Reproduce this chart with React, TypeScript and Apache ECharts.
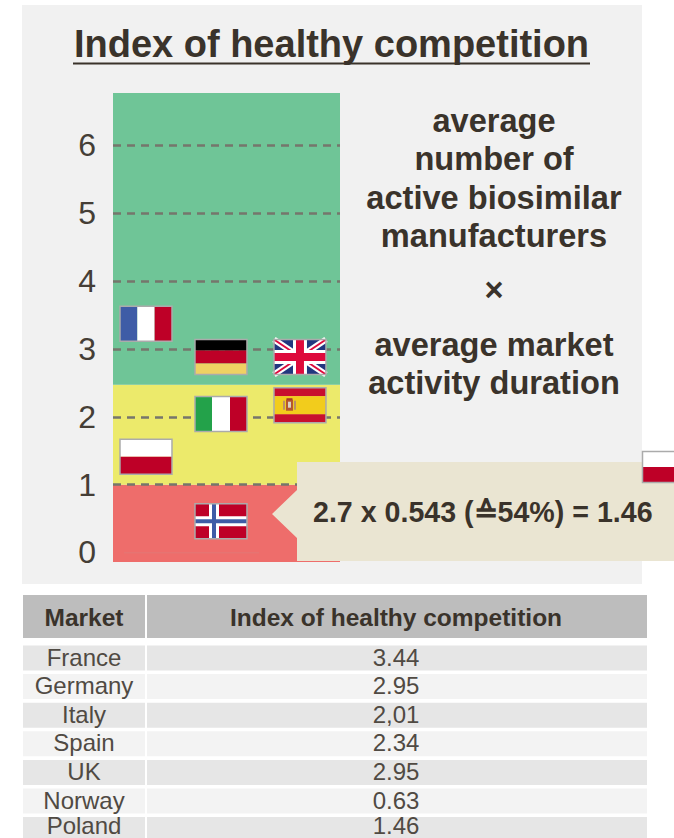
import React, { useEffect, useRef } from "react";
import * as echarts from "echarts";

const FONT = "'Liberation Sans', Arial, sans-serif";
const INK = "#3A332B";

const titleText = "Index of healthy competition";
const yTicks = [0, 1, 2, 3, 4, 5, 6];
const gridTicks = [1, 2, 3, 4, 5, 6];
const bandEdges = [-0.14, 1, 2.47, 6.77];
const bandColors = ["#EE6D6B", "#ECEA6B", "#6FC597"];

// flag positions: column position on a 0-3 scale, level on the y axis
const flagMarkets = ["France", "Germany", "UK", "Italy", "Spain", "Poland", "Norway"];
const flagColumns = [0.436, 1.427, 2.471, 1.427, 2.471, 0.436, 1.427];
const flagLevels = [3.37, 2.88, 2.88, 2.04, 2.17, 1.41, 0.46];

const formulaLines = ["average", "number of", "active biosimilar", "manufacturers"];
const durationLines = ["average market", "activity duration"];
const calloutText = "2.7 x 0.543 (≙54%) = 1.46";

const tableHeader = ["Market", "Index of healthy competition"];
const tableMarkets = ["France", "Germany", "Italy", "Spain", "UK", "Norway", "Poland"];
const tableValues = ["3.44", "2.95", "2,01", "2.34", "2.95", "0.63", "1.46"];

const W = 52;
const H = 35;
const RED = "#BE0027";
const BLUE = "#3E5CA6";

function r(x: number, y: number, width: number, height: number, fill: string) {
  return { type: "rect", shape: { x, y, width, height }, style: { fill } };
}
function l(x1: number, y1: number, x2: number, y2: number, stroke: string, lineWidth: number) {
  return { type: "line", shape: { x1, y1, x2, y2 }, style: { stroke, lineWidth } };
}

function flagParts(name: string): any[] {
  switch (name) {
    case "France":
      return [r(0, 0, W / 3, H, BLUE), r(W / 3, 0, W / 3, H, "#fff"), r((2 * W) / 3, 0, W / 3, H, RED)];
    case "Germany":
      return [r(0, 0, W, 11, "#000"), r(0, 11, W, 13, RED), r(0, 24, W, 11, "#EFD163")];
    case "Italy":
      return [r(0, 0, 17, H, "#23A24A"), r(17, 0, 18, H, "#fff"), r(35, 0, 17, H, RED)];
    case "Poland":
      return [r(0, 0, W, H / 2, "#fff"), r(0, H / 2, W, H / 2, RED)];
    case "Spain":
      return [
        r(0, 0, W, 8.5, "#C8102E"),
        r(0, 8.5, W, 18, "#F2CC1C"),
        r(0, 26.5, W, 8.5, "#C8102E"),
        r(12, 12, 7, 11, "#B5562E"),
        r(14, 14, 3, 6, "#D9D2C5"),
        r(9, 13, 2, 9, "#B98F6B"),
        r(20, 13, 2, 9, "#B98F6B"),
        r(12.5, 10.5, 6, 2, "#A83A2A"),
      ];
    case "Norway":
      return [
        r(0, 0, W, H, RED),
        r(14, 0, 10, H, "#fff"),
        r(0, 12.5, W, 10, "#fff"),
        r(17, 0, 4, H, BLUE),
        r(0, 15.5, W, 4, BLUE),
      ];
    case "UK":
      return [
        r(0, 0, W, H, "#22377F"),
        l(0, 0, W, H, "#fff", 6),
        l(W, 0, 0, H, "#fff", 6),
        l(0, 0, W, H, "#DE0A3C", 2),
        l(W, 0, 0, H, "#DE0A3C", 2),
        r(W / 2 - 7, 0, 14, H, "#fff"),
        r(0, H / 2 - 7, W, 14, "#fff"),
        r(W / 2 - 4, 0, 8, H, "#DE0A3C"),
        r(0, H / 2 - 4, W, 8, "#DE0A3C"),
      ];
  }
  return [];
}
const flagBorder = {
  type: "rect",
  shape: { x: 0, y: 0, width: W, height: H },
  style: { fill: "none", stroke: "#ABABAB", lineWidth: 1.5 },
};

function tableGraphics(): any[] {
  const out: any[] = [];
  const col1 = { x: 23, w: 122, c: 84 };
  const col2 = { x: 147, w: 500, c: 396 };
  out.push(
    { type: "rect", shape: { x: col1.x, y: 595, width: col1.w, height: 43 }, style: { fill: "#BDBDBD" } },
    { type: "rect", shape: { x: col2.x, y: 595, width: col2.w, height: 43 }, style: { fill: "#BDBDBD" } }
  );
  [col1, col2].forEach((c, i) =>
    out.push({
      type: "text",
      x: c.c,
      y: 617,
      style: { text: tableHeader[i], font: `bold 24.5px ${FONT}`, fill: INK, align: "center", verticalAlign: "middle" },
    })
  );
  tableMarkets.forEach((m, i) => {
    const cy = 657 + i * 28.6;
    const fill = i % 2 === 0 ? "#E6E6E6" : "#F3F3F3";
    [col1, col2].forEach((c, j) => {
      out.push({ type: "rect", shape: { x: c.x, y: cy - 11.5, width: c.w, height: 25 }, style: { fill } });
      out.push({
        type: "text",
        x: c.c,
        y: Math.min(cy, 825.5),
        style: {
          text: j === 0 ? m : tableValues[i],
          font: `24px ${FONT}`,
          fill: "#504A43",
          align: "center",
          verticalAlign: "middle",
        },
      });
    });
  });
  return out;
}

function centerText(text: string, y: number, font: string) {
  return {
    type: "text",
    x: 494,
    y,
    style: { text, font, fill: INK, align: "center", verticalAlign: "middle" },
  };
}

export default function App() {
  const ref = useRef<HTMLDivElement>(null);
  useEffect(() => {
    const chart = echarts.init(ref.current!, undefined, { renderer: "svg" });
    const boldSide = `bold 32.6px ${FONT}`;
    chart.setOption({
      animation: false,
      backgroundColor: "#fff",
      grid: { left: 113, top: 93, width: 227, height: 469, containLabel: false },
      xAxis: { type: "value", min: 0, max: 3, show: false },
      yAxis: {
        type: "value",
        min: bandEdges[0],
        max: bandEdges[3],
        z: 3,
        axisLine: { show: false },
        axisTick: { show: false, customValues: gridTicks },
        axisLabel: {
          customValues: yTicks,
          margin: 17,
          fontFamily: FONT,
          fontSize: 32,
          color: "#453E36",
        },
        splitLine: {
          show: true,
          lineStyle: { color: "#76766C", width: 2.5, type: [8, 6] },
        },
      },
      series: [
        {
          type: "custom",
          name: "bands",
          z: 1,
          silent: true,
          data: bandColors.map((_, i) => [bandEdges[i], bandEdges[i + 1], i]),
          encode: { y: [0, 1] },
          renderItem: (_p: any, api: any) => {
            const lo = api.coord([0, api.value(0)]);
            const hi = api.coord([3, api.value(1)]);
            return {
              type: "rect",
              shape: { x: lo[0], y: hi[1], width: hi[0] - lo[0], height: lo[1] - hi[1] },
              style: { fill: bandColors[api.value(2)] },
            };
          },
        },
        {
          type: "custom",
          name: "flags",
          z: 5,
          silent: true,
          data: flagMarkets.map((_, i) => [flagColumns[i], flagLevels[i], i]),
          encode: { x: 0, y: 1 },
          renderItem: (_p: any, api: any) => {
            const c = api.coord([api.value(0), api.value(1)]);
            return {
              type: "group",
              x: c[0] - W / 2,
              y: c[1] - H / 2,
              children: [...flagParts(flagMarkets[api.value(2)]), flagBorder],
            };
          },
        },
      ],
      graphic: {
        elements: [
          { type: "rect", z: -10, shape: { x: 22, y: 5, width: 620, height: 579 }, style: { fill: "#F1F1F1" } },
          {
            type: "text",
            z: 1,
            x: 331.5,
            y: 44,
            style: { text: titleText, font: `bold 38px ${FONT}`, fill: INK, align: "center", verticalAlign: "middle" },
          },
          { type: "rect", z: 1, shape: { x: 73, y: 62.5, width: 517, height: 2 }, style: { fill: INK } },
          ...formulaLines.map((t, i) => ({ ...centerText(t, [120, 158, 197, 235][i], boldSide), z: 1 })),
          { ...centerText("×", 289, boldSide), z: 1 },
          ...durationLines.map((t, i) => ({ ...centerText(t, [344, 382][i], boldSide), z: 1 })),
          { type: "rect", z: 4, shape: { x: 124, y: 552, width: 135, height: 1.5 }, style: { fill: "#E67472" } },
          {
            type: "polygon",
            z: 10,
            shape: {
              points: [
                [297, 462],
                [674, 462],
                [674, 561],
                [297, 561],
                [297, 538],
                [272, 514],
                [297, 490],
              ],
            },
            style: { fill: "#EAE5D2" },
          },
          {
            type: "text",
            z: 11,
            x: 313,
            y: 512,
            style: { text: calloutText, font: `bold 28.6px ${FONT}`, fill: INK, align: "left", verticalAlign: "middle" },
          },
          {
            type: "group",
            z: 11,
            x: 642.5,
            y: 451.5,
            children: [
              { type: "rect", z: 11, shape: { x: 0, y: 0, width: 40, height: 15.5 }, style: { fill: "#fff" } },
              { type: "rect", z: 11, shape: { x: 0, y: 15.5, width: 40, height: 15.5 }, style: { fill: RED } },
              {
                type: "rect",
                z: 11,
                shape: { x: 0, y: 0, width: 40, height: 31 },
                style: { fill: "none", stroke: "#ABABAB", lineWidth: 1.5 },
              },
            ],
          },
          ...tableGraphics(),
        ],
      },
    });
    return () => chart.dispose();
  }, []);
  return <div ref={ref} style={{ position: "absolute", left: 0, top: 0, width: 674, height: 838 }} />;
}
